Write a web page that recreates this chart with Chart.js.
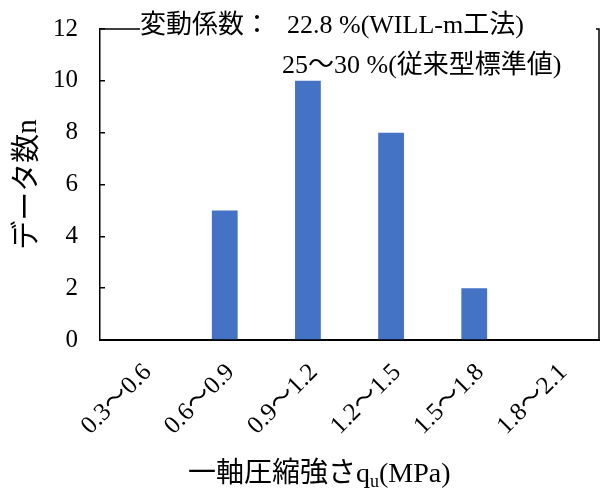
<!DOCTYPE html>
<html><head><meta charset="utf-8">
<script src="https://cdn.jsdelivr.net/npm/chart.js@4"></script>
<style>html,body{margin:0;padding:0;background:#fff}</style>
</head><body>
<canvas id="c" width="601" height="488"></canvas>
<script>
// Histogram of unconfined compressive strength classes
const categories = ['0.3～0.6', '0.6～0.9', '0.9～1.2', '1.2～1.5', '1.5～1.8', '1.8～2.1'];
const counts = [0, 5, 10, 8, 2, 0];
const yMin = 0, yMax = 12, yStep = 2;
const noteLabel = '変動係数：';
const noteLine1 = '22.8 %(WILL-m工法)';
const noteLine2 = '25～30 %(従来型標準値)';
const yTitle = 'データ数n';
const xTitleMain = '一軸圧縮強さq';
const xTitleSub = 'u';
const xTitleUnit = '(MPa)';

const FONT = '"Liberation Serif", "Times New Roman", "Noto Sans CJK JP", serif';

// Plot frame, coefficient-of-variation note and the x-axis title with subscript
const decorations = {
  id: 'decorations',
  afterDraw(chart) {
    const { ctx, chartArea: a } = chart;
    ctx.save();
    ctx.strokeStyle = '#000';
    ctx.lineWidth = 1.5;
    ctx.beginPath();
    ctx.moveTo(a.left, a.top);
    ctx.lineTo(a.right, a.top);
    ctx.lineTo(a.right, a.bottom);
    ctx.stroke();

    // note box (white fill hides the frame behind it)
    ctx.fillStyle = '#fff';
    ctx.fillRect(a.left + 40, a.top - 18, a.right - a.left - 43, 66);
    ctx.fillStyle = '#000';
    ctx.font = '26px ' + FONT;
    ctx.textBaseline = 'alphabetic';
    ctx.textAlign = 'left';
    ctx.fillText(noteLabel, a.left + 40, a.top + 4);
    ctx.fillText(noteLine1, a.left + 187, a.top + 4);
    ctx.fillText(noteLine2, a.left + 182, a.top + 44);

    // x-axis title: q with subscript u
    const y = 482;
    let x = 188;
    ctx.font = '28px ' + FONT;
    ctx.fillText(xTitleMain, x, y);
    x += ctx.measureText(xTitleMain).width;
    ctx.font = '18px ' + FONT;
    ctx.fillText(xTitleSub, x, y + 5);
    x += ctx.measureText(xTitleSub).width;
    ctx.font = '28px ' + FONT;
    ctx.fillText(xTitleUnit, x, y);
    ctx.restore();
  }
};

new Chart(document.getElementById('c'), {
  type: 'bar',
  data: {
    labels: categories,
    datasets: [{
      data: counts,
      backgroundColor: '#4472C4',
      borderWidth: 0,
      barPercentage: 0.62,
      categoryPercentage: 0.5
    }]
  },
  options: {
    responsive: false,
    animation: false,
    layout: { padding: { top: 29, right: 2, left: 0, bottom: 0 } },
    plugins: { legend: { display: false }, tooltip: { enabled: false } },
    scales: {
      x: {
        afterFit(scale) {
          scale.height = 148;
          scale.paddingLeft = 0;
          scale.paddingRight = 0;
        },
        grid: { drawOnChartArea: false, drawTicks: false },
        border: { color: '#000', width: 2 },
        ticks: {
          color: '#000',
          font: { family: FONT, size: 25 },
          minRotation: 45,
          maxRotation: 45,
          padding: 18,
          labelOffset: 6,
          autoSkip: false
        }
      },
      y: {
        min: yMin,
        max: yMax,
        afterFit(scale) {
          scale.width = 100;
          scale.paddingTop = 0;
          scale.paddingBottom = 0;
        },
        grid: { drawOnChartArea: false, drawTicks: true, tickLength: -5, color: '#000', lineWidth: 1.5 },
        border: { color: '#000', width: 1.5 },
        ticks: {
          stepSize: yStep,
          color: '#000',
          font: { family: FONT, size: 25 },
          padding: 27
        },
        title: {
          display: true,
          text: yTitle,
          color: '#000',
          font: { family: FONT, size: 29 },
          padding: { top: 11, bottom: 0 }
        }
      }
    }
  },
  plugins: [decorations]
});
</script>
</body></html>
